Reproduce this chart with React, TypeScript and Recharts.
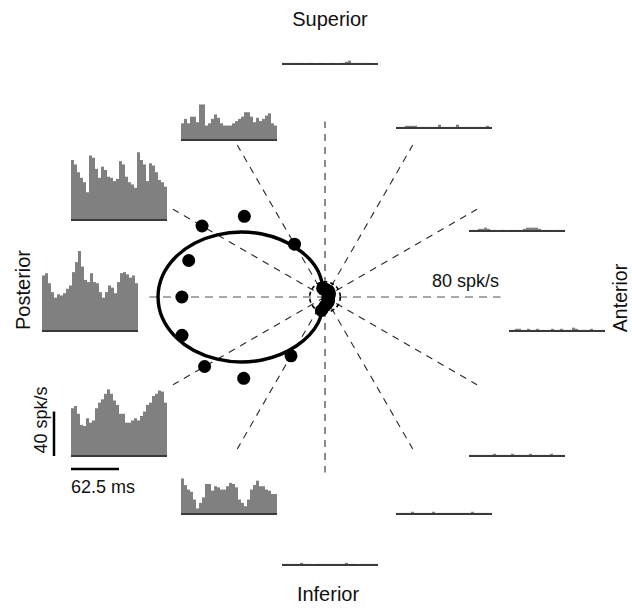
import React from 'react';
import { ScatterChart, Scatter, XAxis, YAxis, BarChart, Bar, ReferenceLine } from 'recharts';

// mean firing rate (spk/s) for 24 motion directions, 15 deg apart (0 = anterior, 90 = superior)
const directions = [0, 15, 30, 45, 60, 75, 90, 105, 120, 135, 150, 165, 180, 195, 210, 225, 240, 255, 270, 285, 300, 315, 330, 345];
const meanRate = [1.5, 1.8, 2.2, 2.7, 3.1, 3.1, 3.6, 4.0, 27.1, 50.7, 63.1, 62.7, 63.6, 65.8, 61.8, 51.1, 30.2, 6.2, 4.0, 3.1, 2.7, 2.2, 1.8, 1.3];

// fitted tuning curve, radius in spk/s, every 15 deg from 90 to 270
const fitDirections = [90, 105, 120, 135, 150, 165, 180, 195, 210, 225, 240, 255, 270];
const fitRate = [0, 12.0, 24.9, 39.6, 55.3, 68.7, 74.2, 68.7, 55.3, 39.6, 24.9, 12.0, 0];

const spontaneousRate = 6.8;
const gridDirections = [0, 30, 60, 90, 120, 150, 180, 210, 240, 270, 300, 330];
const gridRadius = 78;

// PSTHs, 32 bins each, spk/s
const psth090 = [1, 1, 1, 1, 1, 1, 1, 0, 1, 1, 1, 0, 1, 1, 0, 0, 1, 0, 0, 1, 1, 2, 3, 1, 1, 1, 1, 1, 1, 1, 0, 0];
const psth060 = [1, 1, 1, 2, 2, 2, 2, 1, 1, 1, 1, 1, 1, 1, 3, 1, 1, 1, 1, 1, 3, 1, 1, 1, 1, 1, 1, 1, 1, 1, 2, 1];
const psth030 = [1, 1, 1, 2, 2, 3, 2, 1, 1, 0, 1, 1, 0, 1, 1, 1, 1, 1, 2, 3, 3, 3, 3, 2, 1, 1, 1, 1, 0, 1, 1, 1];
const psth000 = [1, 1, 2, 2, 1, 1, 2, 1, 1, 2, 1, 1, 1, 1, 2, 1, 1, 2, 1, 1, 1, 3, 2, 1, 1, 1, 1, 2, 1, 1, 1, 1];
const psth330 = [1, 1, 1, 1, 1, 1, 1, 1, 2, 1, 1, 1, 1, 1, 2, 1, 1, 1, 1, 1, 2, 1, 1, 1, 1, 1, 1, 2, 1, 1, 1, 1];
const psth300 = [1, 1, 1, 1, 1, 2, 1, 1, 1, 1, 1, 1, 2, 1, 1, 1, 1, 1, 1, 1, 1, 1, 1, 1, 1, 2, 1, 1, 1, 1, 1, 1];
const psth270 = [1, 1, 1, 1, 1, 1, 2, 1, 1, 1, 0, 1, 1, 1, 1, 1, 1, 1, 1, 1, 1, 2, 1, 1, 1, 0, 1, 1, 1, 1, 1, 1];
const psth240 = [32, 26, 22, 20, 13, 5, 10, 15, 27, 27, 21, 25, 24, 22, 22, 25, 28, 27, 24, 13, 10, 7, 13, 22, 26, 30, 25, 25, 22, 21, 18, 18];
const psth210 = [43, 45, 38, 28, 27, 34, 30, 32, 43, 48, 51, 56, 60, 56, 50, 46, 38, 38, 30, 30, 32, 34, 32, 36, 40, 46, 48, 54, 56, 59, 58, 48];
const psth180 = [50, 52, 43, 35, 30, 33, 32, 34, 38, 41, 53, 62, 72, 58, 46, 44, 52, 44, 43, 35, 30, 35, 41, 39, 34, 44, 52, 53, 51, 48, 50, 43];
const psth150 = [54, 50, 43, 38, 34, 25, 58, 56, 46, 38, 48, 45, 39, 38, 35, 37, 53, 50, 39, 34, 32, 29, 61, 54, 50, 35, 51, 49, 43, 36, 34, 30];
const psth120 = [15, 19, 15, 21, 21, 16, 32, 32, 13, 15, 19, 23, 20, 15, 13, 13, 13, 15, 17, 19, 21, 25, 25, 21, 16, 20, 17, 19, 22, 24, 15, 13];

// where each PSTH sits on the page (left edge, baseline)
const psthLayout = [
  { values: psth090, left: 282, base: 64 },
  { values: psth060, left: 396, base: 128 },
  { values: psth030, left: 469, base: 231 },
  { values: psth000, left: 509, base: 331 },
  { values: psth330, left: 469, base: 456 },
  { values: psth300, left: 396, base: 514 },
  { values: psth270, left: 282, base: 565 },
  { values: psth240, left: 181, base: 514 },
  { values: psth210, left: 71, base: 456 },
  { values: psth180, left: 42, base: 331 },
  { values: psth150, left: 71, base: 220 },
  { values: psth120, left: 181, base: 140 },
];

const W = 632;
const H = 610;
const ORIGIN_X = 325;
const ORIGIN_Y = 297;
const PX_PER_SPK = 2.25; // polar plot scale
const PSTH_H = 80;
const PSTH_MAX = 72; // spk/s at top of each PSTH box
const FONT = '"Liberation Sans", Arial, Helvetica, sans-serif';

const rad = (deg: number) => (deg * Math.PI) / 180;
const polar = (deg: number, r: number) => ({ x: r * Math.cos(rad(deg)), y: r * Math.sin(rad(deg)) });

const dots = directions.map((d, i) => polar(d, meanRate[i]));
const fitCurve = fitDirections.map((d, i) => polar(d, fitRate[i]));

const Psth = ({ values, left, base }: { values: number[]; left: number; base: number }) => {
  const rows = values.map((v, i) => ({ bin: i, rate: v }));
  return (
    <div style={{ position: 'absolute', left, top: base - PSTH_H }}>
      <BarChart width={96} height={PSTH_H + 2} data={rows} margin={{ top: 0, right: 0, bottom: 2, left: 0 }} barCategoryGap={0} barGap={0}>
        <XAxis dataKey="bin" hide />
        <YAxis hide domain={[0, PSTH_MAX]} allowDataOverflow />
        <Bar dataKey="rate" fill="#808080" isAnimationActive={false} />
        <ReferenceLine y={0} stroke="#3a3a3a" strokeWidth={2} />
      </BarChart>
    </div>
  );
};

export default function App() {
  const noMarker = () => <g />;
  return (
    <div style={{ position: 'absolute', left: 0, top: 0, width: W, height: H, background: '#fff' }}>
      <div style={{ position: 'absolute', left: 0, top: 0 }}>
        <ScatterChart width={W} height={H} margin={{ top: 0, right: 0, bottom: 0, left: 0 }}>
          <XAxis type="number" dataKey="x" hide allowDataOverflow domain={[-ORIGIN_X / PX_PER_SPK, (W - ORIGIN_X) / PX_PER_SPK]} />
          <YAxis type="number" dataKey="y" hide allowDataOverflow domain={[-(H - ORIGIN_Y) / PX_PER_SPK, ORIGIN_Y / PX_PER_SPK]} />
          {gridDirections.map((d) => (
            <Scatter
              key={'g' + d}
              data={[{ x: 0, y: 0 }, polar(d, gridRadius)]}
              shape={noMarker}
              line={
                d === 0 || d === 180
                  ? { stroke: '#a8a8a8', strokeWidth: 2.2, strokeDasharray: '8 6' }
                  : { stroke: '#2a2a2a', strokeWidth: 1.1, strokeDasharray: '7 6' }
              }
              isAnimationActive={false}
            />
          ))}
          <Scatter
            data={[{ x: 0, y: 0 }]}
            isAnimationActive={false}
            shape={(p: any) => (
              <circle cx={p.cx} cy={p.cy} r={spontaneousRate * PX_PER_SPK} fill="none" stroke="#000" strokeWidth={1.6} strokeDasharray="4 3" />
            )}
          />
          <Scatter
            data={fitCurve}
            shape={noMarker}
            line={{ stroke: '#000', strokeWidth: 3.4 }}
            lineJointType="natural"
            isAnimationActive={false}
          />
          <Scatter
            data={dots}
            isAnimationActive={false}
            shape={(p: any) => <circle cx={p.cx} cy={p.cy} r={6.5} fill="#000" />}
          />
        </ScatterChart>
      </div>

      {psthLayout.map((h, i) => (
        <Psth key={i} values={h.values} left={h.left} base={h.base} />
      ))}

      <svg width={W} height={H} style={{ position: 'absolute', left: 0, top: 0, pointerEvents: 'none' }}>
        <g fontFamily={FONT} fill="#111">
          <text x={330} y={26} fontSize={20} textAnchor="middle">Superior</text>
          <text x={328} y={601} fontSize={20} textAnchor="middle">Inferior</text>
          <text transform="translate(30,290) rotate(-90)" fontSize={20} textAnchor="middle">Posterior</text>
          <text transform="translate(627,298) rotate(-90)" fontSize={19.5} textAnchor="middle">Anterior</text>
          <text x={432} y={287} fontSize={18}>80 spk/s</text>
          <text transform="translate(47,420) rotate(-90)" fontSize={18} textAnchor="middle">40 spk/s</text>
          <text x={71} y={493} fontSize={18}>62.5 ms</text>
        </g>
        <line x1={54} y1={456} x2={54} y2={456 - (40 * PSTH_H) / PSTH_MAX} stroke="#000" strokeWidth={2.5} />
        <line x1={71} y1={469} x2={119} y2={469} stroke="#000" strokeWidth={2.5} />
      </svg>
    </div>
  );
}
